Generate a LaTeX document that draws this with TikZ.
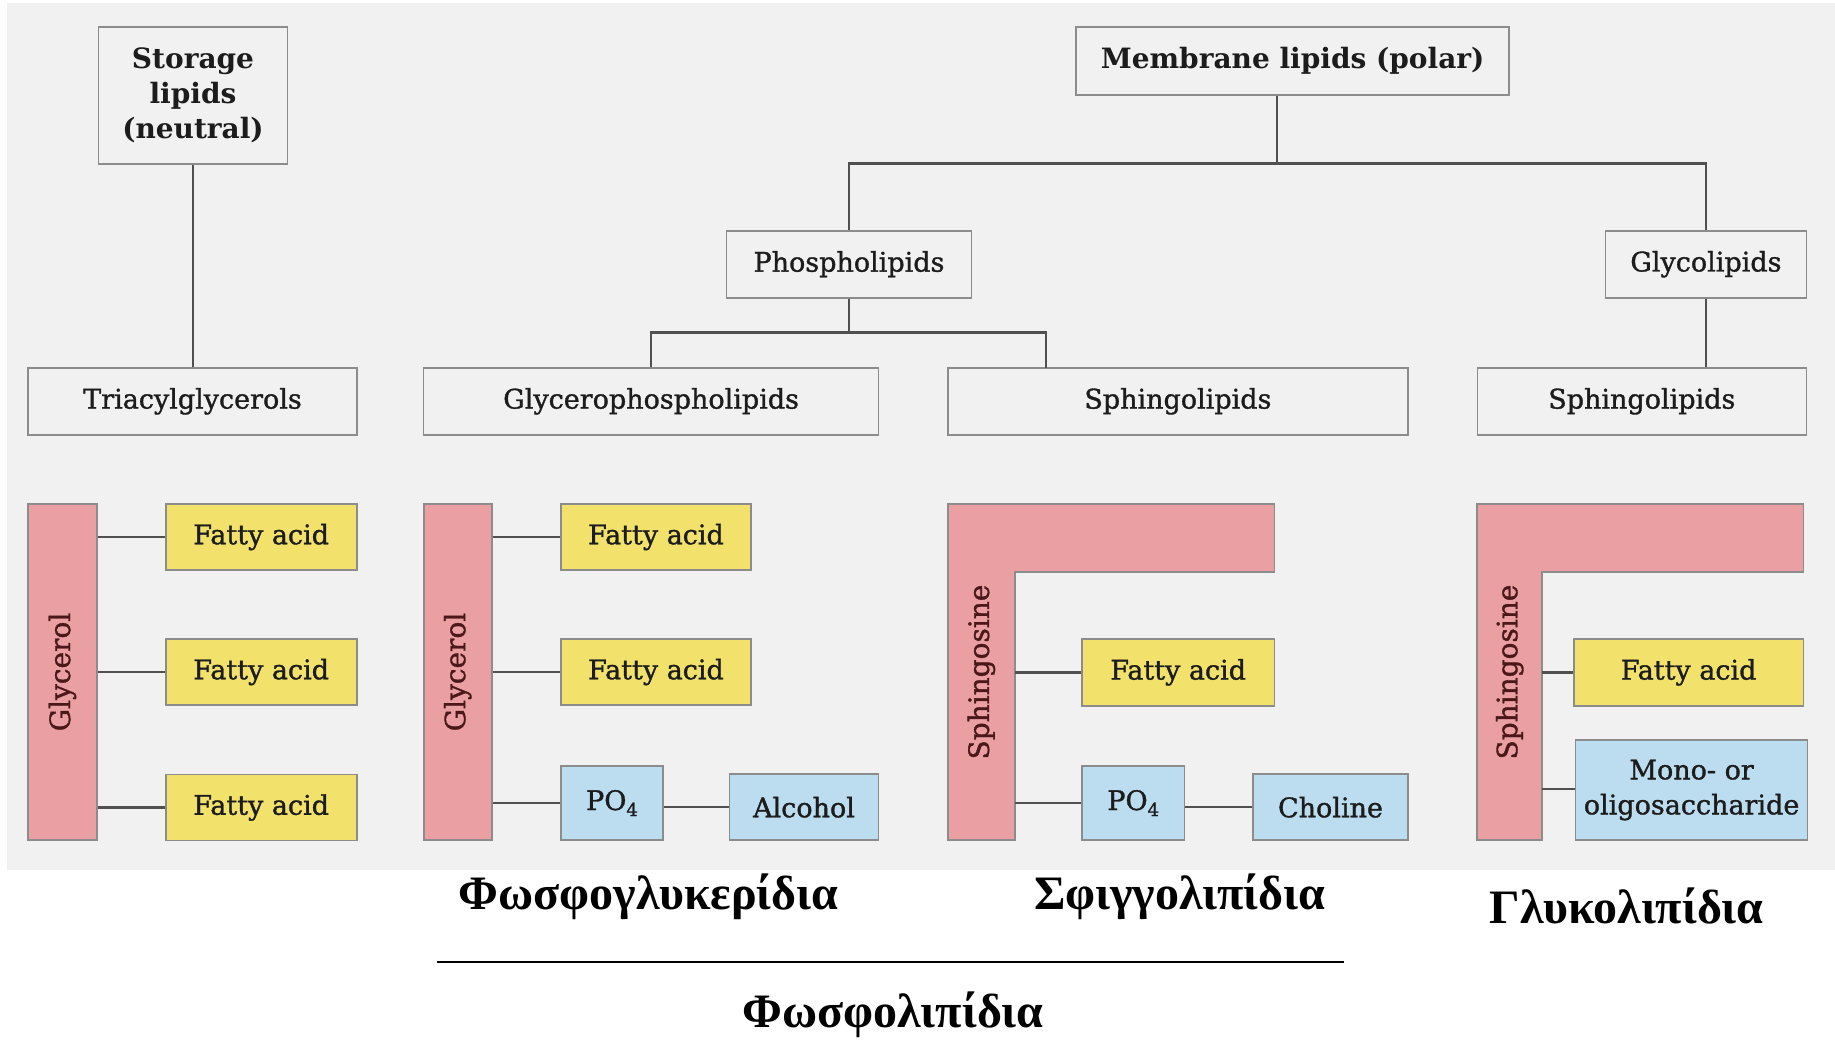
\documentclass[tikz,border=0pt]{standalone}
\usepackage{fontspec}
\setmainfont{DejaVu Serif}
\newfontfamily\boxfont{DejaVu Serif}[FakeBold=1.2]
\newfontfamily\greekfont{Liberation Serif}[Script=Greek]
\definecolor{bggray}{HTML}{F1F1F1}
\definecolor{boxgray}{HTML}{8C8C8C}
\definecolor{linegray}{HTML}{505050}
\definecolor{fayellow}{HTML}{F2E26C}
\definecolor{poblue}{HTML}{BBDDEF}
\definecolor{barpink}{HTML}{EAA0A3}
\definecolor{bartext}{HTML}{4A1818}
\definecolor{txt}{HTML}{1C1C1C}
\newcommand{\phosph}{PO\raisebox{-0.22em}{\fontsize{18}{18}\selectfont 4}}
\tikzset{
  conn/.style={draw=linegray, line width=2.5pt},
  hbox/.style={draw=boxgray, line width=1.6pt, fill=bggray, inner sep=0pt, align=center,
    text=txt, font=\boxfont\fontsize{27}{35}\selectfont},
  headbox/.style={hbox, font=\fontsize{28}{35}\selectfont\bfseries},
  fabox/.style={hbox, fill=fayellow},
  bluebox/.style={hbox, fill=poblue},
  barshape/.style={draw=boxgray, line width=1.6pt, fill=barpink},
  bartxt/.style={rotate=90, text=bartext, inner sep=0pt, font=\boxfont\fontsize{28}{32}\selectfont},
  greek/.style={anchor=base, inner sep=0pt, font=\greekfont\bfseries\fontsize{48}{52}\selectfont}
}
\begin{document}
\begin{tikzpicture}[x=1pt, y=-1pt]
% page and panel
\fill[white] (0,0) rectangle (1835,1042);
\fill[bggray] (7,3) rectangle (1835,870);
\useasboundingbox (0,0) rectangle (1835,1042);

% ---- classification tree ----
\node[headbox, minimum width=189pt, minimum height=137pt] (storage) at (193,95.7) {Storage\\lipids\\(neutral)};
\node[headbox, minimum width=433pt, minimum height=68pt] (membrane) at (1292.6,61.2) {Membrane lipids (polar)};
\node[hbox, minimum width=245pt, minimum height=67pt] (phospho) at (849,264.2) {Phospholipids};
\node[hbox, minimum width=201pt, minimum height=67pt] (glyco) at (1705.9,264.2) {Glycolipids};
\node[hbox, minimum width=329pt, minimum height=67pt] (triacyl) at (192.5,401.3) {Triacylglycerols};
\node[hbox, minimum width=455pt, minimum height=67pt] (glycero) at (651.1,401.3) {Glycerophospholipids};
\node[hbox, minimum width=460pt, minimum height=67pt] (sphingoA) at (1177.9,401.3) {Sphingolipids};
\node[hbox, minimum width=329pt, minimum height=67pt] (sphingoB) at (1641.8,401.3) {Sphingolipids};

\coordinate (mdrop) at (1277,163.3);
\coordinate (pdrop) at (849,332.3);
\draw[conn] (storage.south) -- (storage.south |- triacyl.north);
\draw[conn] (membrane.south -| mdrop) -- (mdrop);
\draw[conn] (phospho.north) |- (mdrop) -| (glyco.north);
\draw[conn] (phospho.south) -- (pdrop);
\draw[conn] (glycero.north) |- (pdrop) -| (1046,367.7) coordinate (sdrop);
\draw[conn] (glyco.south) -- (glyco.south |- sphingoB.north);

% ---- triacylglycerol ----
\node[barshape, minimum width=68.6pt, minimum height=336pt, inner sep=0pt] (gly1) at (62.5,672) {};
\node[bartxt] at (gly1.center) {Glycerol};
\node[fabox, minimum width=191pt, minimum height=66pt] (fa1a) at (261.2,537) {Fatty acid};
\node[fabox, minimum width=191pt, minimum height=66pt] (fa1b) at (261.2,672) {Fatty acid};
\node[fabox, minimum width=191pt, minimum height=66pt] (fa1c) at (261.2,807.5) {Fatty acid};
\draw[conn] (gly1.east |- fa1a.west) -- (fa1a.west);
\draw[conn] (gly1.east |- fa1b.west) -- (fa1b.west);
\draw[conn] (gly1.east |- fa1c.west) -- (fa1c.west);

% ---- glycerophospholipid ----
\node[barshape, minimum width=68pt, minimum height=336pt, inner sep=0pt] (gly2) at (457.7,672) {};
\node[bartxt] at (gly2.center) {Glycerol};
\node[fabox, minimum width=190pt, minimum height=66pt] (fa2a) at (656,537) {Fatty acid};
\node[fabox, minimum width=190pt, minimum height=66pt] (fa2b) at (656,672) {Fatty acid};
\node[bluebox, minimum width=102pt, minimum height=74pt] (po2) at (612,803) {\phosph};
\node[bluebox, minimum width=149pt, minimum height=66pt] (alc) at (804,807.2) {Alcohol};
\draw[conn] (gly2.east |- fa2a.west) -- (fa2a.west);
\draw[conn] (gly2.east |- fa2b.west) -- (fa2b.west);
\draw[conn] (gly2.east |- po2.west) -- (po2.west);
\draw[conn] (po2.east |- alc.west) -- (alc.west);

% ---- sphingophospholipid ----
\draw[barshape] (947.7,504) -- (1274.5,504) -- (1274.5,571.7) -- (1015,571.7) -- (1015,840) -- (947.7,840) -- cycle;
\coordinate (sph1) at (1015,672);
\node[bartxt] at (981.4,672) {Sphingosine};
\node[fabox, minimum width=192.6pt, minimum height=67pt] (fa3) at (1178.2,672.3) {Fatty acid};
\node[bluebox, minimum width=102.5pt, minimum height=74pt] (po3) at (1133.2,803) {\phosph};
\node[bluebox, minimum width=155pt, minimum height=66pt] (chol) at (1330.5,807.2) {Choline};
\draw[conn] (sph1 |- fa3.west) -- (fa3.west);
\draw[conn] (sph1 |- po3.west) -- (po3.west);
\draw[conn] (po3.east |- chol.west) -- (chol.west);

% ---- glycosphingolipid ----
\draw[barshape] (1477.2,504) -- (1803.4,504) -- (1803.4,571.7) -- (1542.2,571.7) -- (1542.2,840) -- (1477.2,840) -- cycle;
\coordinate (sph2) at (1542.2,672);
\node[bartxt] at (1509.7,672) {Sphingosine};
\node[fabox, minimum width=229.6pt, minimum height=67pt] (fa4) at (1688.6,672.3) {Fatty acid};
\node[bluebox, minimum width=232pt, minimum height=100pt] (mono) at (1691.6,790) {Mono- or\\oligosaccharide};
\draw[conn] (sph2 |- fa4.west) -- (fa4.west);
\draw[conn] (sph2 |- 0,789) -- (mono.west |- 0,789);

% ---- Greek captions ----
\node[greek] (capA) at (648.7,909) {Φωσφογλυκερίδια};
\node[greek] (capB) at (1179.7,909) {Σφιγγολιπίδια};
\node[greek] (capC) at (1626.7,923) {Γλυκολιπίδια};
\draw[line width=2.2pt] (437,961.7) -- (1344,961.7);
\node[greek] (capD) at (893,1027) {Φωσφολιπίδια};
\end{tikzpicture}
\end{document}
